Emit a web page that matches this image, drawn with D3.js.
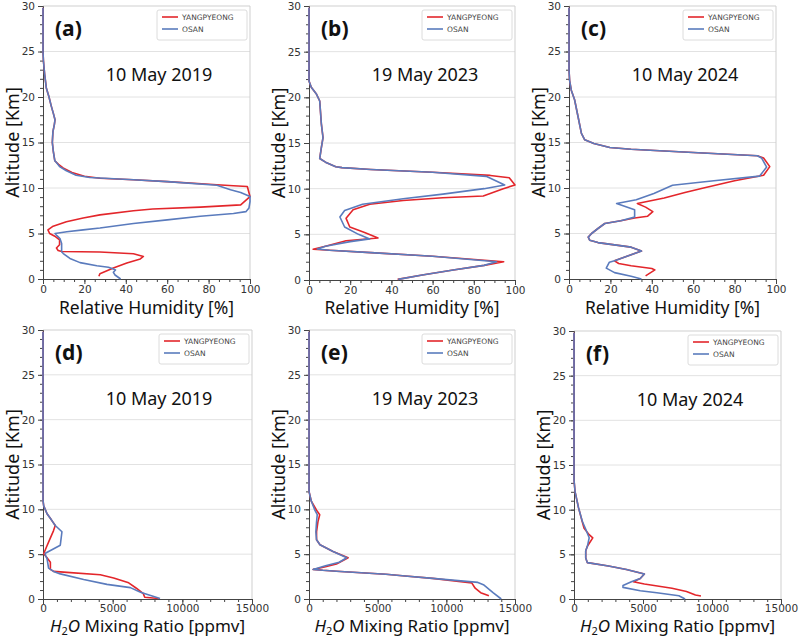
<!DOCTYPE html>
<html><head><meta charset="utf-8">
<script src="https://cdn.jsdelivr.net/npm/d3@7"></script>
<style>body{margin:0;background:#fff}</style>
</head><body>
<svg id="chart" width="800" height="640"></svg>
<script>
// ---------- tick labels / categories ----------
const altTicks = [0, 5, 10, 15, 20, 25, 30];
const rhTicks = [0, 20, 40, 60, 80, 100];
const h2oTicks = [0, 5000, 10000, 15000];
const stations = ["YANGPYEONG", "OSAN"];
const panelLabels = ["(a)", "(b)", "(c)", "(d)", "(e)", "(f)"];
const dates = ["10 May 2019", "19 May 2023", "10 May 2024", "10 May 2019", "19 May 2023", "10 May 2024"];

// ---------- data: [value, altitude km] ----------
const rhA_yang = [[27,0.3],[27.5,0.58],[34,1.2],[40.5,1.75],[47,2.2],[48.5,2.48],[43.7,2.78],[27.5,2.96],[9,3.03],[7.3,3.14],[6.5,3.4],[8,3.76],[8,4.3],[5.7,4.7],[3.2,5.0],[2.4,5.4],[4.9,5.8],[11.3,6.3],[19.4,6.7],[27.5,7.05],[43.7,7.5],[53,7.7],[76,7.9],[95.5,8.15],[100,9.06],[98.7,10.16],[92,10.25],[84,10.35],[60,10.7],[43.7,10.9],[27.5,11.07],[20,11.3],[14,11.7],[9.7,12.2],[7.5,12.6],[5.7,13],[5,14],[4.5,15],[4.8,16.2],[5.5,17],[5.8,17.5],[5,18.2],[4,19],[2.9,20],[1.6,21],[0.8,22.5],[0.2,24],[0,25],[0,29.8]];
const rhA_osan = [[37.5,0],[34.8,0.44],[34,0.73],[35,1.0],[34,1.1],[31.6,1.3],[26,1.46],[17.9,1.8],[13,2.26],[9.8,2.8],[9,3.0],[9,3.9],[8.2,4.45],[6.6,4.8],[5.8,5.0],[11.5,5.2],[19.4,5.4],[27.5,5.6],[43.7,6.1],[60,6.5],[76,6.9],[92,7.2],[98,7.4],[99.5,7.8],[100,8.5],[100,9.06],[95.5,9.5],[90.6,9.8],[84,10.3],[60,10.7],[43.7,10.9],[22.6,11.15],[16,11.4],[11.3,11.9],[8,12.35],[6.1,12.9],[5.7,13],[5,14],[4.5,15],[4.8,16.2],[5.5,17],[5.8,17.5],[5,18.2],[4,19],[2.9,20],[1.6,21],[0.8,22.5],[0.2,24],[0,25],[0,29.8]];

const rhB_yang = [[43,0.07],[55,0.55],[70,1.1],[85,1.6],[94.5,2.0],[60,2.6],[30,3.0],[10,3.25],[2,3.36],[8,3.7],[18,4.3],[33.5,4.6],[27,5.2],[19.8,5.8],[18,6.75],[21.4,7.7],[29.5,8.3],[45.7,8.7],[65,9.0],[84.6,9.2],[94.3,10.0],[100,10.4],[97.2,11.2],[88,11.45],[60,11.8],[30,12.1],[16,12.3],[13,12.4],[8,12.9],[5.2,13.3],[6,14.5],[6.8,15.6],[6,17.1],[5.2,19.6],[3.5,20.4],[1.1,21.1],[0,21.8],[0,29.8]];
const rhB_osan = [[43.3,0.07],[55,0.55],[70,1.1],[85,1.6],[91,2.0],[60,2.6],[30,3.0],[10,3.25],[4,3.4],[8,3.7],[20,4.2],[29.5,4.5],[24,5.0],[17.3,5.8],[15,6.9],[17.3,7.6],[26,8.3],[45.7,8.9],[65,9.4],[85,10.0],[95,10.4],[86,11.35],[60,11.8],[30,12.1],[16,12.3],[13,12.4],[8,12.9],[5.2,13.3],[6,14.5],[6.8,15.6],[6,17.1],[5.2,19.6],[3.5,20.4],[1.1,21.1],[0,21.8],[0,29.8]];

const rhC_yang = [[37,0.35],[41.5,1.0],[40,1.15],[30,1.45],[24,1.7],[22,2.0],[28,2.5],[35,3.07],[30,3.5],[22,3.75],[14,4.0],[10,4.26],[9.3,4.6],[10.9,5.0],[14,5.55],[17.3,6.1],[25,6.4],[31.7,6.7],[38,6.9],[40.5,7.4],[37,7.9],[33,8.3],[46,8.9],[56,9.5],[65,10.0],[80,10.8],[94,11.4],[97,12.35],[94,13.3],[91,13.55],[60,13.9],[30,14.25],[19.7,14.45],[12,14.9],[7.6,15.3],[6,16],[4.4,17.8],[2.7,19.7],[1.1,20.75],[0.3,21.8],[0,23],[0,29.8]];
const rhC_osan = [[35,0],[30,0.3],[22,0.7],[18,1.2],[19.5,1.85],[22,2.0],[28,2.5],[35,3.07],[30,3.5],[22,3.75],[14,4.0],[10,4.26],[9.3,4.6],[10.9,5.0],[14,5.55],[17.3,6.1],[25,6.4],[31.7,6.8],[31.7,7.6],[23,8.3],[32.5,8.7],[41,9.4],[50,10.3],[70,10.8],[92,11.3],[95.5,12.3],[93,13.3],[91,13.55],[60,13.9],[30,14.25],[19.7,14.45],[12,14.9],[7.6,15.3],[6,16],[4.4,17.8],[2.7,19.7],[1.1,20.75],[0.3,21.8],[0,23],[0,29.8]];

const h2oD_yang = [[8300,0.05],[7300,0.2],[7200,0.6],[6700,1.2],[6150,1.8],[5070,2.35],[4110,2.7],[1720,2.97],[760,3.08],[530,3.3],[530,4.1],[290,4.6],[50,5.05],[250,5.8],[500,6.7],[750,7.6],[880,8.2],[700,8.6],[525,9.0],[290,9.5],[50,10.4],[0,11],[0,29.8]];
const h2oD_osan = [[8400,0.05],[7500,0.5],[7000,0.75],[6270,1.27],[4590,1.63],[2920,2.17],[1240,2.8],[760,3.08],[400,3.44],[290,4.5],[170,4.9],[170,5.1],[1240,6.0],[1360,7.5],[880,8.2],[700,8.6],[525,9.0],[290,9.5],[50,10.4],[0,11],[0,29.8]];

const h2oE_yang = [[13100,0.35],[12500,0.7],[12100,1.2],[11850,1.8],[9000,2.3],[6800,2.6],[5600,2.76],[2000,3.1],[1000,3.2],[300,3.3],[1200,3.6],[2000,3.9],[2850,4.6],[1750,5.3],[800,6.05],[550,6.6],[550,7.5],[650,8.6],[780,9.4],[550,9.9],[170,10.9],[0,12],[0,29.8]];
const h2oE_osan = [[14000,0],[13400,0.7],[12700,1.6],[12300,1.85],[9000,2.3],[6800,2.6],[5600,2.76],[2000,3.1],[1000,3.2],[300,3.3],[1200,3.7],[2200,4.1],[2750,4.6],[1750,5.3],[800,6.05],[550,6.6],[500,7.5],[550,8.6],[600,9.4],[400,10],[150,11],[0,12],[0,29.8]];

const h2oF_yang = [[9200,0.33],[8800,0.45],[8150,0.85],[7100,1.2],[5100,1.67],[4300,1.93],[4800,2.3],[5100,2.8],[3800,3.3],[2500,3.7],[970,4.07],[850,4.6],[850,5.4],[970,5.9],[1360,6.85],[1100,7.2],[720,7.96],[590,8.7],[330,10.2],[80,12],[0,13.3],[0,29.8]];
const h2oF_osan = [[8050,0],[7600,0.37],[6000,0.7],[4800,0.93],[3550,1.3],[3550,1.5],[4200,1.96],[4800,2.3],[5100,2.8],[3800,3.3],[2500,3.7],[970,4.07],[850,4.6],[850,5.4],[970,5.9],[1100,6.85],[850,7.8],[600,8.7],[330,10.2],[80,12],[0,13.3],[0,29.8]];

// ---------- layout (pixels) ----------
const layout = [
  {l:43, r:250, t:6, b:279},
  {l:309, r:515, t:6, b:280},
  {l:569, r:776, t:6, b:279},
  {l:43, r:252, t:330, b:599},
  {l:309, r:515, t:330, b:599},
  {l:574, r:781, t:331, b:599}
];
const panelSeries = [
  [rhA_yang, rhA_osan], [rhB_yang, rhB_osan], [rhC_yang, rhC_osan],
  [h2oD_yang, h2oD_osan], [h2oE_yang, h2oE_osan], [h2oF_yang, h2oF_osan]
];
const colors = ["#e3262b", "#5a7bbd"];
const tickFont = "DejaVu Sans";
const textFont = "'Noto Sans', 'DejaVu Sans', sans-serif";

const svg = d3.select("#chart");

layout.forEach((L, i) => {
  const isRH = i < 3;
  const x = d3.scaleLinear().domain(isRH ? [0, 100] : [0, 15000]).range([L.l, L.r]);
  const y = d3.scaleLinear().domain([0, 30]).range([L.b, L.t]);
  const g = svg.append("g");

  // grid
  g.selectAll("line.grid").data([5, 10, 15, 20, 25]).join("line")
    .attr("x1", L.l).attr("x2", L.r)
    .attr("y1", d => y(d)).attr("y2", d => y(d))
    .attr("stroke", "#e2e2e2").attr("stroke-width", 1);
  // light frame top/right
  g.append("line").attr("x1", L.l).attr("x2", L.r).attr("y1", L.t).attr("y2", L.t)
    .attr("stroke", "#cfcfcf");
  g.append("line").attr("x1", L.r).attr("x2", L.r).attr("y1", L.t).attr("y2", L.b)
    .attr("stroke", "#cfcfcf");

  // minor ticks
  const yMinor = g.append("g").attr("transform", `translate(${L.l},0)`)
    .call(d3.axisLeft(y).tickValues(d3.range(0, 31, 1)).tickSize(3).tickFormat(""));
  yMinor.select(".domain").remove();
  const xMinor = g.append("g").attr("transform", `translate(0,${L.b})`)
    .call(d3.axisBottom(x).tickValues(isRH ? d3.range(0, 101, 5) : d3.range(0, 15001, 1000)).tickSize(3).tickFormat(""));
  xMinor.select(".domain").remove();

  // major axes
  const yAx = g.append("g").attr("transform", `translate(${L.l},0)`)
    .call(d3.axisLeft(y).tickValues(altTicks).tickSize(5).tickPadding(3));
  const xAx = g.append("g").attr("transform", `translate(0,${L.b})`)
    .call(d3.axisBottom(x).tickValues(isRH ? rhTicks : h2oTicks).tickSize(5).tickPadding(isRH ? 2 : 1)
      .tickFormat(d3.format("d")));
  [yAx, xAx, yMinor, xMinor].forEach(a => {
    a.selectAll("line").attr("stroke", "#444");
    a.selectAll(".domain").attr("stroke", "#444");
    a.selectAll("text").attr("font-family", tickFont).attr("font-size", 10.5).attr("fill", "#333");
  });

  // series lines
  const line = d3.line().x(d => x(d[0])).y(d => y(d[1]));
  panelSeries[i].forEach((s, k) => {
    g.append("path").datum(s).attr("d", line)
      .attr("fill", "none").attr("stroke", colors[k]).attr("stroke-width", 1.6)
      .attr("stroke-linejoin", "round");
  });

  // legend
  const lx = L.r - 93, ly = L.t + 4;
  const leg = g.append("g");
  leg.append("rect").attr("x", lx).attr("y", ly).attr("width", 90).attr("height", 30)
    .attr("fill", "#fff").attr("fill-opacity", 0.85).attr("stroke", "#dcdcdc").attr("rx", 2);
  stations.forEach((s, k) => {
    const yy = ly + 7 + k * 12;
    leg.append("line").attr("x1", lx + 5).attr("x2", lx + 21).attr("y1", yy).attr("y2", yy)
      .attr("stroke", colors[k]).attr("stroke-width", 1.6);
    leg.append("text").attr("x", lx + 25).attr("y", yy).attr("dy", "0.35em")
      .attr("font-family", tickFont).attr("font-size", 7.5).attr("fill", "#444").text(s);
  });

  // panel label and date
  g.append("text").attr("x", L.l + 12).attr("y", L.t + 30)
    .attr("font-family", textFont).attr("font-weight", "bold").attr("font-size", 21)
    .attr("fill", "#111").text(panelLabels[i]);
  g.append("text").attr("x", L.l + 116).attr("y", L.t + 75).attr("text-anchor", "middle")
    .attr("font-family", textFont).attr("font-size", 18).attr("fill", "#111").text(dates[i]);

  // axis titles
  g.append("text").attr("transform", `translate(${L.l - 30},${(L.t + L.b) / 2}) rotate(-90)`)
    .attr("text-anchor", "middle").attr("dy", "0.35em")
    .attr("font-family", textFont).attr("font-size", 18).attr("fill", "#111").text("Altitude [Km]");
  const xt = g.append("text").attr("x", (L.l + L.r) / 2).attr("y", isRH ? 314 : 632)
    .attr("text-anchor", "middle").attr("font-family", textFont).attr("font-size", isRH ? 17.5 : 17).attr("fill", "#111");
  if (isRH) {
    xt.text("Relative Humidity [%]");
  } else {
    xt.append("tspan").attr("font-style", "italic").text("H");
    xt.append("tspan").attr("font-size", 11).attr("dy", 3).text("2");
    xt.append("tspan").attr("font-style", "italic").attr("dy", -3).text("O");
    xt.append("tspan").text(" Mixing Ratio [ppmv]");
  }
});
</script>
</body></html>
